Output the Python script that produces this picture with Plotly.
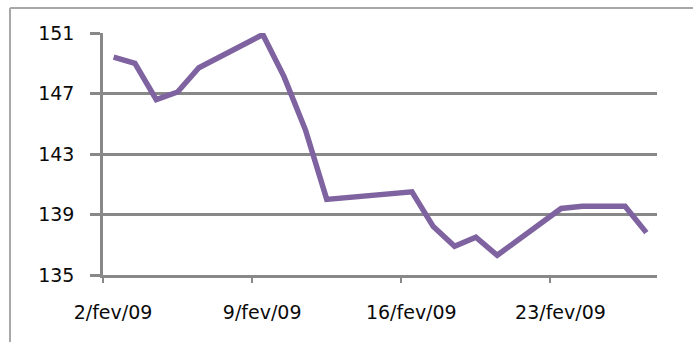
import plotly.graph_objects as go

# Daily closing values, February 2009
dates = [
    "2009-02-02", "2009-02-03", "2009-02-04", "2009-02-05", "2009-02-06",
    "2009-02-09", "2009-02-10", "2009-02-11", "2009-02-12",
    "2009-02-16", "2009-02-17", "2009-02-18", "2009-02-19", "2009-02-20",
    "2009-02-23", "2009-02-24", "2009-02-25", "2009-02-26", "2009-02-27",
]
values = [
    149.4, 149.0, 146.6, 147.1, 148.7,
    150.9, 148.1, 144.6, 140.0,
    140.5, 138.2, 136.9, 137.5, 136.3,
    139.4, 139.55, 139.55, 139.55, 137.8,
]

tick_dates = ["2009-02-02", "2009-02-09", "2009-02-16", "2009-02-23"]
tick_labels = ["2/fev/09", "9/fev/09", "16/fev/09", "23/fev/09"]
y_ticks = [135, 139, 143, 147, 151]

GRID = "#888888"
LINE = "#7F63A1"
FONT = dict(family="DejaVu Sans", size=19, color="#0a0a0a")

# each daily point sits in the middle of its day
x_mid = [d + " 12:00" for d in dates]

fig = go.Figure(
    go.Scatter(
        x=x_mid, y=values, mode="lines",
        line=dict(color=LINE, width=5.5),
        hoverinfo="skip",
    )
)

W, H = 693, 342
L, R, T, B = 103, 36, 33, 67
pw, ph = W - L - R, H - T - B

# thin frame around the chart area
bx = (10 - L) / pw
by = 1 + (T - 8) / ph
fig.add_shape(type="line", xref="paper", yref="paper",
              x0=bx, x1=1 + (R + 5) / pw, y0=by, y1=by,
              line=dict(color="#a8a8a8", width=2))
fig.add_shape(type="line", xref="paper", yref="paper",
              x0=bx, x1=bx, y0=by, y1=-(B + 5) / ph,
              line=dict(color="#a8a8a8", width=2))

fig.update_layout(
    width=W, height=H,
    margin=dict(l=L, r=R, t=T, b=B, pad=0),
    paper_bgcolor="white", plot_bgcolor="white",
    showlegend=False,
    font=FONT,
    xaxis=dict(
        type="date",
        range=["2009-02-02", "2009-02-28"],
        tickmode="array", tickvals=tick_dates, ticktext=tick_labels,
        ticks="outside", ticklen=5, tickwidth=2, tickcolor=GRID,
        ticklabelshift=10, ticklabelstandoff=13,
        showgrid=False, zeroline=False,
        showline=True, linecolor=GRID, linewidth=2.5,
        tickfont=FONT,
    ),
    yaxis=dict(
        range=[135, 151],
        tickmode="array", tickvals=y_ticks,
        ticks="outside", ticklen=10, tickwidth=2.5, tickcolor=GRID,
        ticklabelstandoff=12,
        showgrid=True, gridcolor=GRID, gridwidth=2.5,
        zeroline=False,
        showline=True, linecolor=GRID, linewidth=2.5,
        tickfont=FONT,
    ),
)

fig.write_html("out.html")
